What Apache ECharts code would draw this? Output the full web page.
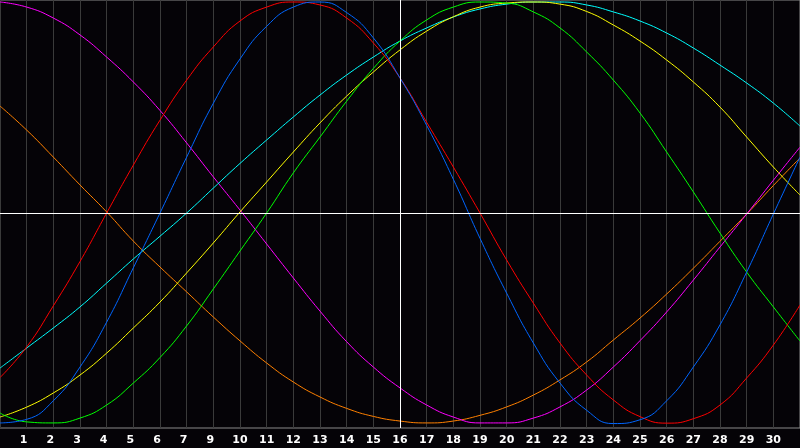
<!DOCTYPE html>
<html>
<head>
<meta charset="utf-8">
<script src="https://cdn.jsdelivr.net/npm/echarts@6/dist/echarts.min.js"></script>
<style>
  html, body { margin: 0; padding: 0; background: #050307; }
  #chart { width: 800px; height: 448px; }
</style>
</head>
<body>
<div id="chart"></div>
<script>
// positions along the x axis (one per vertical grid line)
const days = [0, 1, 2, 3, 4, 5, 6, 7, 8, 9, 10, 11, 12, 13, 14, 15, 16, 17, 18, 19, 20, 21, 22, 23, 24, 25, 26, 27, 28, 29, 30]
// tick labels under grid lines 1..29 (8 is not shown in the original)
const dayLabels = ['1', '2', '3', '4', '5', '6', '7', '9', '10', '11', '12', '13', '14', '15', '16', '17', '18', '19', '20', '21', '22', '23', '24', '25', '26', '27', '28', '29', '30']
const todayIndex = 15

// curve values in percent at each grid line
const redData = [-78, -63.5, -44, -23, 0, 22.7, 44, 63, 78.7, 91, 97.6, 100, 98.6, 92.4, 80.6, 64, 43, 21.8, 0, -22.3, -42.7, -61.6, -76.8, -88.6, -96.5, -99.6, -97.5, -91, -78.2, -62.6, -43.6]
const blueData = [-99.5, -97.8, -89, -73, -51.7, -26, 0, 26.5, 52, 73, 88.5, 97.6, 100, 95, 83, 64, 41.5, 16, -12, -38, -61.6, -80.6, -93.5, -99.8, -98, -89, -73, -53, -28, -0.5, 26.5]
const greenData = [-94.8, -99, -99.5, -97.2, -91, -80.6, -68.5, -53.5, -36, -18, 0, 19, 36, 53, 68.5, 81.5, 91.5, 97.6, 100, 99.5, 95.3, 87.7, 76.3, 63, 47.4, 28.9, 10, -9.5, -28, -44.5, -60.7]
const cyanData = [-73.5, -64, -54.5, -44.5, -33.2, -21.8, -11, 0, 11.8, 23.5, 34.6, 45.5, 55.9, 65.4, 73.9, 81.5, 87.7, 92.9, 96.7, 99, 100, 100, 98.6, 95.3, 91, 85.3, 78.2, 70.1, 61.6, 52.1, 41.2]
const yellowData = [-96.7, -92, -85.3, -76.8, -66.4, -54.5, -42.2, -28.4, -14.2, 0.5, 14.7, 28.9, 42.7, 55.4, 66.8, 77.3, 86.2, 93, 97.6, 99.5, 100, 99, 95.5, 89.1, 81.5, 72.5, 62.1, 50.2, 36, 21.8, 8.5]
const magentaData = [100, 97.6, 92.4, 84.4, 73.9, 62.1, 48.6, 33.2, 17.1, 1.4, -14.7, -30.8, -46.5, -61, -73, -82.9, -91, -96.7, -99.5, -99.5, -97.2, -91.9, -83.9, -73, -60.5, -46.9, -31.8, -16.1, -0.5, 15.5, 31.2]
const orangeData = [50.7, 39.3, 26.5, 13.3, 0.5, -13.3, -25.6, -37.4, -49.3, -60.6, -71.1, -80.1, -87.2, -92.6, -96.4, -98.6, -99.5, -98.6, -95.9, -91.9, -86.3, -79.1, -70.6, -60.2, -49.8, -38.4, -26.2, -13.4, -0.5, 13, 26.1]

const curves = [
  { name: 'orange', color: '#ff8000', values: orangeData },
  { name: 'magenta', color: '#ff00ff', values: magentaData },
  { name: 'cyan', color: '#00ffff', values: cyanData },
  { name: 'yellow', color: '#ffff00', values: yellowData },
  { name: 'green', color: '#00ff00', values: greenData },
  { name: 'red', color: '#ff0000', values: redData },
  { name: 'blue', color: '#0066ff', values: blueData }
]

const chart = echarts.init(document.getElementById('chart'))

const labelFont = {
  color: '#ffffff',
  fontFamily: 'DejaVu Sans',
  fontWeight: 'bold',
  fontSize: 11
}

const option = {
  backgroundColor: '#050307',
  animation: false,
  grid: {
    left: 0,
    right: 0,
    top: 0,
    bottom: 20,
    show: true,
    backgroundColor: 'transparent',
    borderColor: '#8a8a8a',
    borderWidth: 1
  },
  xAxis: {
    type: 'value',
    min: 0,
    max: 30,
    interval: 1,
    axisLine: { show: false },
    axisTick: { show: false },
    splitLine: { show: true, lineStyle: { color: '#3a3a3a', width: 1 } },
    axisLabel: Object.assign({
      show: true,
      margin: 7,
      showMinLabel: false,
      showMaxLabel: false,
      // single digits sit a little left of their grid line in the original
      rich: {
        one: Object.assign({ padding: [0, 6, 0, 0] }, labelFont),
        two: Object.assign({}, labelFont)
      },
      formatter: function (v) {
        const label = dayLabels[v - 1]
        if (label === undefined) return ''
        return label.length === 1 ? '{one|' + label + '}' : '{two|' + label + '}'
      }
    }, labelFont)
  },
  yAxis: {
    type: 'value',
    min: -101.9,
    max: 100.95,
    axisLine: { show: false },
    axisTick: { show: false },
    axisLabel: { show: false },
    splitLine: { show: false }
  },
  series: []
}

// white cross: today's line and the zero line
option.series.push({
  type: 'line',
  data: [],
  silent: true,
  markLine: {
    silent: true,
    symbol: 'none',
    label: { show: false },
    lineStyle: { color: '#ffffff', width: 1, type: 'solid' },
    data: [{ xAxis: todayIndex }, { yAxis: 0 }]
  }
})

for (let index = 0; index < curves.length; index++) {
  const c = curves[index]
  option.series.push({
    name: c.name,
    type: 'line',
    smooth: true,
    showSymbol: false,
    lineStyle: { color: c.color, width: 1 },
    itemStyle: { color: c.color },
    data: days.map((d, i) => [d, c.values[i]])
  })
}

chart.setOption(option)
</script>
</body>
</html>
